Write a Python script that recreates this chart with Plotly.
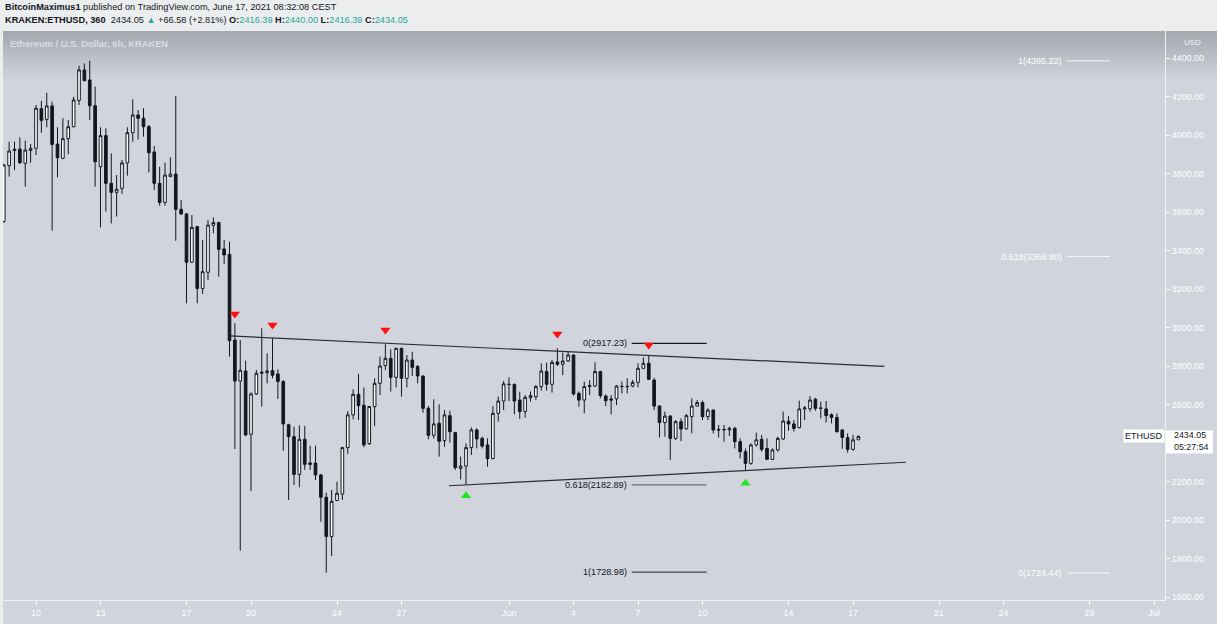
import pandas as pd
import plotly.graph_objects as go

# ETH/USD 6h candles (Kraken)
opens = [3550, 3841, 3919, 3927, 3853, 3920, 3931, 4137, 4081, 4151,
         3953, 3879, 3981, 4043, 4180, 4338, 4286, 4152, 3835, 3997,
         3749, 3702, 3723, 3855, 4012, 4104, 4087, 4043, 3912, 3749,
         3650, 3784, 3797, 3614, 3590, 3339, 3524, 3203, 3287, 3531,
         3545, 3408, 3380, 2935, 2722, 2774, 2445, 2655, 2762, 2765,
         2776, 2759, 2719, 2495, 2433, 2237, 2419, 2296, 2296, 2234,
         2118, 1914, 2101, 2135, 2376, 2546, 2653, 2596, 2397, 2589,
         2710, 2802, 2840, 2741, 2892, 2736, 2831, 2797, 2748, 2580,
         2440, 2502, 2412, 2542, 2454, 2268, 2280, 2376, 2468, 2424,
         2390, 2319, 2554, 2618, 2705, 2705, 2623, 2563, 2635, 2641,
         2693, 2771, 2705, 2821, 2809, 2826, 2857, 2658, 2623, 2693,
         2696, 2771, 2644, 2629, 2629, 2693, 2694, 2696, 2715, 2788,
         2814, 2727, 2592, 2506, 2540, 2424, 2511, 2473, 2537, 2592,
         2610, 2537, 2571, 2471, 2471, 2468, 2476, 2407, 2355, 2294,
         2390, 2419, 2372, 2315, 2364, 2421, 2513, 2499, 2480, 2577,
         2578, 2627, 2580, 2577, 2547, 2533, 2468, 2428, 2367, 2416.39]
highs = [3850, 3965, 3965, 3988, 3971, 3953, 4156, 4177, 4220, 4173,
         4040, 4087, 4078, 4199, 4360, 4372, 4386, 4251, 4040, 4035,
         3905, 3792, 3870, 4040, 4185, 4130, 4139, 4052, 3943, 3835,
         3856, 3884, 4203, 3662, 3595, 3584, 3528, 3455, 3558, 3572,
         3550, 3455, 3446, 3022, 2935, 2828, 2663, 2779, 2996, 2866,
         2944, 2783, 2727, 2500, 2485, 2492, 2488, 2386, 2386, 2240,
         2142, 2156, 2199, 2380, 2566, 2679, 2759, 2688, 2592, 2736,
         2849, 2913, 2887, 2895, 2895, 2857, 2874, 2805, 2752, 2592,
         2627, 2601, 2571, 2568, 2458, 2329, 2398, 2481, 2476, 2433,
         2424, 2592, 2641, 2722, 2741, 2708, 2667, 2649, 2667, 2701,
         2814, 2817, 2831, 2892, 2870, 2874, 2860, 2667, 2719, 2727,
         2819, 2775, 2653, 2649, 2701, 2719, 2736, 2727, 2814, 2845,
         2857, 2739, 2595, 2563, 2545, 2519, 2528, 2551, 2632, 2623,
         2620, 2580, 2575, 2494, 2494, 2485, 2485, 2424, 2372, 2398,
         2454, 2442, 2424, 2372, 2433, 2563, 2540, 2519, 2620, 2592,
         2644, 2635, 2615, 2618, 2554, 2554, 2471, 2450, 2442, 2440.00]
lows = [3545, 3784, 3818, 3850, 3732, 3856, 3896, 4012, 4040, 3503,
        3780, 3875, 3900, 4040, 4156, 4280, 4078, 3732, 3520, 3602,
        3541, 3576, 3694, 3789, 3965, 3977, 3991, 3806, 3714, 3633,
        3633, 3784, 3451, 3585, 3126, 3335, 3126, 3174, 3247, 3489,
        3264, 3330, 2849, 2369, 1841, 2435, 2151, 2650, 2589, 2710,
        2736, 2629, 2360, 2104, 2182, 2170, 2260, 2260, 2208, 1991,
        1726, 1813, 2099, 2104, 2343, 2523, 2520, 2378, 2390, 2488,
        2649, 2779, 2667, 2689, 2641, 2689, 2748, 2710, 2558, 2419,
        2423, 2329, 2381, 2402, 2260, 2211, 2182, 2338, 2372, 2372,
        2277, 2315, 2511, 2571, 2618, 2549, 2525, 2532, 2615, 2623,
        2672, 2672, 2662, 2800, 2753, 2822, 2646, 2589, 2554, 2649,
        2693, 2632, 2592, 2549, 2597, 2658, 2658, 2689, 2689, 2784,
        2727, 2571, 2429, 2433, 2312, 2416, 2410, 2470, 2450, 2589,
        2519, 2519, 2450, 2429, 2407, 2436, 2372, 2320, 2260, 2286,
        2381, 2355, 2312, 2312, 2355, 2416, 2464, 2459, 2476, 2519,
        2563, 2568, 2528, 2506, 2502, 2454, 2370, 2350, 2360, 2416.39]
closes = [3844, 3917, 3926, 3856, 3922, 3931, 4139, 4076, 4151, 3951,
          3882, 3981, 4043, 4182, 4338, 4282, 4152, 3861, 3997, 3749,
          3702, 3718, 3855, 4012, 4104, 4087, 4043, 3908, 3749, 3650,
          3792, 3797, 3614, 3590, 3339, 3520, 3203, 3290, 3532, 3545,
          3406, 3377, 2932, 2722, 2778, 2442, 2655, 2762, 2768, 2774,
          2752, 2719, 2499, 2433, 2237, 2419, 2289, 2289, 2234, 2118,
          1914, 2097, 2139, 2376, 2546, 2653, 2594, 2390, 2589, 2710,
          2800, 2840, 2741, 2892, 2736, 2831, 2793, 2748, 2580, 2440,
          2499, 2409, 2546, 2459, 2272, 2280, 2376, 2468, 2421, 2384,
          2319, 2554, 2618, 2707, 2704, 2618, 2563, 2637, 2646, 2693,
          2774, 2705, 2819, 2809, 2826, 2857, 2655, 2623, 2693, 2698,
          2771, 2646, 2620, 2623, 2696, 2694, 2693, 2715, 2788, 2814,
          2731, 2592, 2506, 2540, 2424, 2511, 2473, 2542, 2592, 2610,
          2537, 2571, 2468, 2468, 2469, 2476, 2407, 2355, 2294, 2390,
          2416, 2367, 2315, 2364, 2424, 2514, 2499, 2476, 2577, 2582,
          2623, 2580, 2581, 2542, 2533, 2459, 2429, 2367, 2416.39, 2434.05]
times = pd.date_range('2021-05-08 12:00', periods=len(opens), freq='6h')

# drawings
upper_line_t = ['2021-05-19 00:30', '2021-06-18 10:56']
upper_line_p = [2956, 2798]
lower_line_t = ['2021-05-29 05:00', '2021-06-19 11:10']
lower_line_p = [2178, 2300]

fib_left_t = ['2021-06-06 17:00', '2021-06-10 04:40']
fib_left_levels = [2917.23, 2182.89, 1728.98]
fib_left_names = ['0(2917.23)', '0.618(2182.89)', '1(1728.98)']
fib_left_colors = ['#131722', '#6a6d78', '#434651']

fib_right_t = ['2021-06-26 22:50', '2021-06-28 22:50']
fib_right_levels = [4385.22, 3368.80, 1724.44]
fib_right_names = ['1(4385.22)', '0.618(3368.80)', '0(1724.44)']

red_t = ['2021-05-19 06:00', '2021-05-21 00:00', '2021-05-26 06:00',
         '2021-06-03 06:00', '2021-06-07 12:00']
red_p = [3070, 3013, 2987, 2966, 2909]
green_t = ['2021-05-30 00:00', '2021-06-12 00:00']
green_p = [2126, 2191]

tick_dates = ['2021-05-10', '2021-05-13', '2021-05-17', '2021-05-20', '2021-05-24',
              '2021-05-27', '2021-06-01', '2021-06-04', '2021-06-07', '2021-06-10',
              '2021-06-14', '2021-06-17', '2021-06-21', '2021-06-24', '2021-06-28',
              '2021-07-01']
tick_text = ['10', '13', '17', '20', '24', '27', 'Jun', '4', '7', '10',
             '14', '17', '21', '24', '28', 'Jul']
# 2400 sits under the last-price tag, so it is not shown
price_ticks = [1600, 1800, 2000, 2200, 2600, 2800, 3000, 3200, 3400,
               3600, 3800, 4000, 4200, 4400]
last_price = 2434.05
countdown = '05:27:54'

W, H = 1217, 624
L, R, T, B = 3, 1165, 31, 600
FONT = 'Liberation Sans, Arial, sans-serif'
BG = '#D1D4DC'
INK = '#131722'
GREEN = '#26a69a'


def paper_x(px):
    return (px - L) / (R - L)


def paper_y(py):
    return (B - py) / (B - T)


fig = go.Figure()

fig.add_trace(go.Candlestick(
    x=times, open=opens, high=highs, low=lows, close=closes,
    increasing=dict(line=dict(color=INK, width=1), fillcolor='#FFFFFF'),
    decreasing=dict(line=dict(color=INK, width=1), fillcolor=INK),
    whiskerwidth=0, showlegend=False, hoverinfo='skip'))

fig.add_trace(go.Scatter(x=upper_line_t, y=upper_line_p, mode='lines',
                         line=dict(color='#2a2e39', width=1.2), showlegend=False))
fig.add_trace(go.Scatter(x=lower_line_t, y=lower_line_p, mode='lines',
                         line=dict(color='#2a2e39', width=1.2), showlegend=False))

for lvl, name, col in zip(fib_left_levels, fib_left_names, fib_left_colors):
    fig.add_trace(go.Scatter(x=fib_left_t, y=[lvl, lvl], mode='lines',
                             line=dict(color=col, width=1.2), showlegend=False))
    fig.add_annotation(x=fib_left_t[0], y=lvl, text=name, showarrow=False,
                       xanchor='right', yanchor='middle', xshift=-3,
                       font=dict(color=INK, size=9.1, family=FONT))

for lvl, name in zip(fib_right_levels, fib_right_names):
    fig.add_trace(go.Scatter(x=fib_right_t, y=[lvl, lvl], mode='lines',
                             line=dict(color='#F4F5F7', width=1), showlegend=False))
    fig.add_annotation(x=fib_right_t[0], y=lvl, text=name, showarrow=False,
                       xanchor='right', yanchor='middle', xshift=-3,
                       font=dict(color='#FFFFFF', size=9, family=FONT))

fig.add_trace(go.Scatter(x=red_t, y=red_p, mode='markers', showlegend=False,
                         marker=dict(symbol='triangle-down', size=9, color='#FF1010',
                                     line=dict(width=0))))
fig.add_trace(go.Scatter(x=green_t, y=green_p, mode='markers', showlegend=False,
                         marker=dict(symbol='triangle-up', size=9, color='#22E622',
                                     line=dict(width=0))))

# background: chart panel + darker fade at the top
shapes = [dict(type='rect', xref='paper', yref='paper', layer='below',
               x0=paper_x(L), x1=paper_x(W), y0=paper_y(H), y1=paper_y(T),
               fillcolor=BG, line=dict(width=0))]
top_col = (164, 168, 177)
bot_col = (209, 212, 220)
nb = 25
for k in range(nb):
    f = k / (nb - 1)
    c = tuple(round(top_col[j] + (bot_col[j] - top_col[j]) * f) for j in range(3))
    y0 = T + k * 2
    shapes.append(dict(type='rect', xref='paper', yref='paper', layer='below',
                       x0=paper_x(L), x1=paper_x(W), y0=paper_y(y0 + 2.2), y1=paper_y(y0),
                       fillcolor='rgb(%d,%d,%d)' % c, line=dict(width=0)))
# white price tag on the right axis
shapes.append(dict(type='rect', xref='paper', yref='y', layer='above',
                   x0=paper_x(1166), x1=paper_x(1213), ysizemode='pixel',
                   yanchor=last_price, y0=-17, y1=6, fillcolor='#FFFFFF',
                   line=dict(width=0)))

annotations = [
    dict(xref='paper', yref='paper', x=paper_x(3), y=paper_y(7), xanchor='left',
         yanchor='middle', showarrow=False,
         text='<b>BitcoinMaximus1</b> published on TradingView.com, June 17, 2021 08:32:08 CEST',
         font=dict(color=INK, size=9.2, family=FONT)),
    dict(xref='paper', yref='paper', x=paper_x(3), y=paper_y(20), xanchor='left',
         yanchor='middle', showarrow=False,
         text=('<b>KRAKEN:ETHUSD, 360</b>  2434.05 <span style="color:%s">▲</span> +66.58 (+2.81%%) '
               '<b>O:</b><span style="color:%s">2416.39</span> <b>H:</b><span style="color:%s">2440.00</span> '
               '<b>L:</b><span style="color:%s">2416.39</span> <b>C:</b><span style="color:%s">2434.05</span>')
         % (GREEN, GREEN, GREEN, GREEN, GREEN),
         font=dict(color=INK, size=9.2, family=FONT)),
    dict(xref='paper', yref='paper', x=paper_x(8), y=paper_y(44), xanchor='left',
         yanchor='middle', showarrow=False,
         text='<b>Ethereum / U.S. Dollar, 6h, KRAKEN</b>',
         font=dict(color='rgba(255,255,255,0.55)', size=9.3, family=FONT)),
    dict(xref='paper', yref='paper', x=paper_x(1192), y=paper_y(43), xanchor='center',
         yanchor='middle', showarrow=False, text='USD',
         font=dict(color='#F4F5F7', size=8, family=FONT)),
    dict(xref='paper', yref='y', x=paper_x(1165), y=last_price, xanchor='right',
         yanchor='middle', showarrow=False, text='ETHUSD', bgcolor='#FFFFFF',
         borderpad=1, font=dict(color=INK, size=9, family=FONT)),
    dict(xref='paper', yref='y', x=paper_x(1173), y=last_price, xanchor='left',
         yanchor='middle', yshift=1, borderpad=0, showarrow=False,
         text='%.2f' % last_price, font=dict(color=INK, size=8.9, family=FONT)),
    dict(xref='paper', yref='y', x=paper_x(1173), y=last_price, xanchor='left',
         yanchor='middle', yshift=-11, borderpad=0, showarrow=False, text=countdown,
         font=dict(color=INK, size=8.9, family=FONT)),
]
for a in annotations:
    fig.add_annotation(**a)

fig.update_layout(
    width=W, height=H,
    margin=dict(l=L, r=W - R, t=T, b=H - B),
    paper_bgcolor='#ECEDEF', plot_bgcolor='rgba(0,0,0,0)',
    font=dict(family=FONT, color='#FFFFFF'),
    shapes=shapes, showlegend=False, hovermode=False,
)
fig.update_xaxes(
    type='date', range=['2021-05-08 11:10', '2021-07-01 12:15'],
    rangeslider=dict(visible=False), tickvals=tick_dates, ticktext=tick_text,
    ticks='outside', ticklen=4, tickcolor='#FFFFFF', showgrid=False, zeroline=False,
    showline=True, linecolor='#F0F2F6', linewidth=1,
    tickfont=dict(color='#FFFFFF', size=8.9, family=FONT))
fig.update_yaxes(
    side='right', range=[1584.4, 4540.3], tickvals=price_ticks, tickformat='.2f',
    ticks='outside', ticklen=4, tickcolor='#FFFFFF', showgrid=False, zeroline=False,
    showline=True, linecolor='#F0F2F6', linewidth=1,
    tickfont=dict(color='#FFFFFF', size=8.9, family=FONT))

# the page's default body margin would shift the chart
fig.write_html('out.html', config={'displayModeBar': False},
               post_script="document.body.style.margin='0';")
